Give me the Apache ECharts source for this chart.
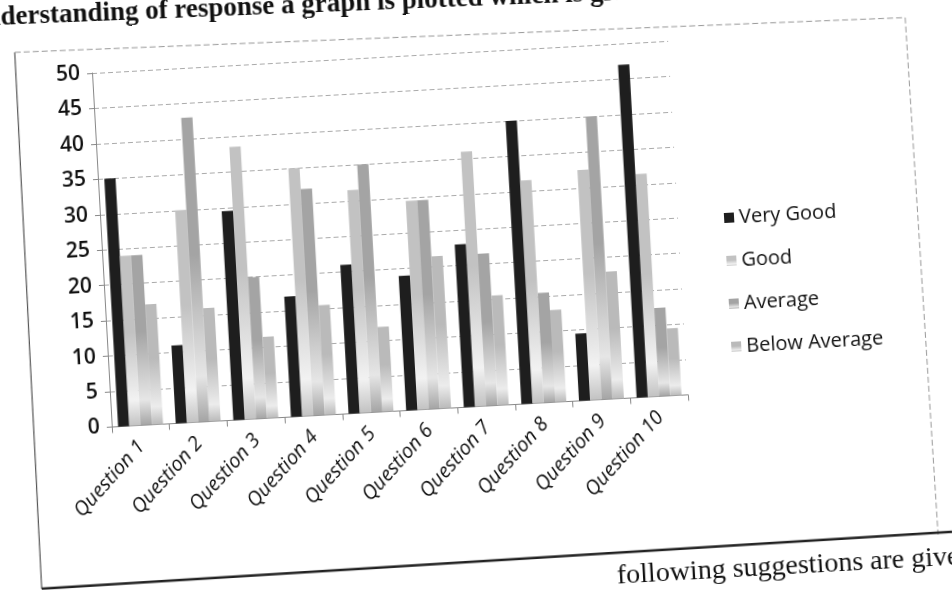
<!DOCTYPE html>
<html>
<head>
<meta charset="utf-8">
<script src="https://cdn.jsdelivr.net/npm/echarts@6/dist/echarts.min.js"></script>
<style>
html,body{margin:0;padding:0;width:952px;height:590px;overflow:hidden;background:#fff;}
#wrap{position:absolute;left:-74px;top:-80px;width:1100px;height:750px;transform:rotate(-3.2deg);transform-origin:550px 375px;}
#chart{width:1100px;height:750px;}
#toptext{position:absolute;left:-30px;top:4px;white-space:nowrap;font:bold 27px "Liberation Serif",serif;color:#111;transform:rotate(-2.3deg);transform-origin:0 0;line-height:27px;}
</style>
</head>
<body>
<div id="wrap"><div id="chart"></div></div>
<div id="toptext"></div>
<script>
var categories = ['Question 1','Question 2','Question 3','Question 4','Question 5','Question 6','Question 7','Question 8','Question 9','Question 10'];
var seriesNames = ['Very Good','Good','Average','Below Average'];
var veryGood = [35, 11, 29.5, 17, 21, 19, 23, 40, 9.5, 47];
var good = [24, 30, 38.5, 35, 31.5, 29.5, 36, 31.5, 32.5, 31.5];
var average = [24, 43, 20, 32, 35, 29.5, 21.5, 15.5, 40, 12.5];
var belowAverage = [17, 16, 11.5, 15.5, 12, 21.5, 15.5, 13, 18, 9.5];
var yTicks = [0,5,10,15,20,25,30,35,40,45,50];
var topText = 'understanding of response a graph is plotted which is given below.';
var bottomText = 'following suggestions are given';

document.getElementById('toptext').textContent = topText;

function grad(base, light){
  return new echarts.graphic.LinearGradient(0,0,0,1,[
    {offset:0,color:base},{offset:0.45,color:base},{offset:0.85,color:light},{offset:1,color:base}
  ]);
}
var chart = echarts.init(document.getElementById('chart'));
var font = '"Open Sans", "Noto Sans", sans-serif';
chart.setOption({
  animation:false,
  backgroundColor:'#fff',
  grid:{left:179, top:132, width:577, height:354.5, containLabel:false},
  legend:{
    orient:'vertical', left:797, top:297, itemWidth:10, itemHeight:10, itemGap:23,
    icon:'rect',
    data:seriesNames,
    textStyle:{fontSize:20, color:'#111', fontFamily:font}
  },
  xAxis:{
    type:'category', data:categories,
    axisLine:{lineStyle:{color:'#888'}},
    axisTick:{show:true, alignWithLabel:false, lineStyle:{color:'#888'}, length:6},
    axisLabel:{rotate:45, fontSize:20, fontStyle:'italic', color:'#111', fontFamily:font, margin:18, interval:0}
  },
  yAxis:{
    type:'value', min:yTicks[0], max:yTicks[yTicks.length-1], interval:5,
    axisLine:{show:true, lineStyle:{color:'#888'}},
    axisTick:{show:true, inside:false, length:5, lineStyle:{color:'#888'}},
    splitLine:{lineStyle:{color:'#aaa', type:[5,3]}},
    axisLabel:{fontSize:21, color:'#111', fontFamily:font, fontWeight:600, margin:12}
  },
  series:[
    {name:seriesNames[0], type:'bar', data:veryGood, barGap:'0%', barCategoryGap:'22%', itemStyle:{color:'#1e1e1e'}},
    {name:seriesNames[1], type:'bar', data:good, itemStyle:{color:grad('#c2c2c2','#f2f2f2')}},
    {name:seriesNames[2], type:'bar', data:average, itemStyle:{color:grad('#a4a4a4','#e6e6e6')}},
    {name:seriesNames[3], type:'bar', data:belowAverage, itemStyle:{color:grad('#bababa','#ececec')}}
  ],
  graphic:[
    {type:'polyline', shape:{points:[[100,644],[103,107]]}, style:{fill:'none', stroke:'#555', lineWidth:1.2}, silent:true},
    {type:'polyline', shape:{points:[[103,107],[994,122],[998,640]]}, style:{fill:'none', stroke:'#999', lineWidth:1, lineDash:[6,3]}, silent:true},
    {type:'line', shape:{x1:100, y1:644, x2:1012, y2:638}, style:{stroke:'#222', lineWidth:2.5}, silent:true},
    {type:'text', x:675, y:650, style:{text:bottomText, font:'28px "Liberation Serif", serif', fill:'#111', verticalAlign:'top'}, silent:true}
  ]
});
</script>
</body>
</html>
